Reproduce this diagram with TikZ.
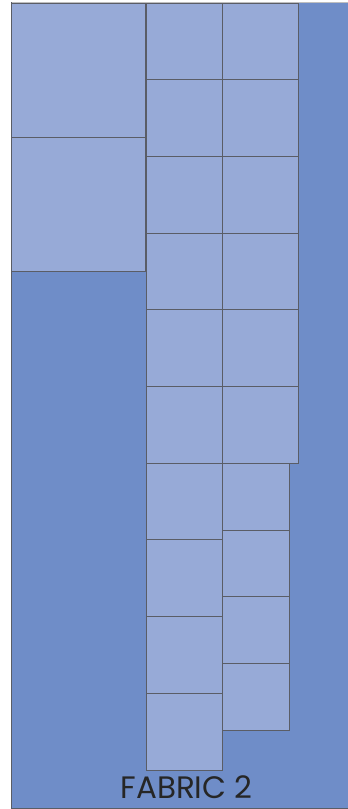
\documentclass[tikz,border=0pt]{standalone}
\usepackage{fontspec}
\newfontfamily\labelfont{Poppins}
\definecolor{fabric}{HTML}{6F8DC8}
\definecolor{patch}{HTML}{97AAD7}
\definecolor{edge}{HTML}{5A5D66}
\begin{document}
\begin{tikzpicture}[x=1pt,y=-1pt,
  patchbox/.style={draw=edge,line width=1pt,fill=patch}]
\useasboundingbox (0,0) rectangle (348,809);
\fill[white] (0,0) rectangle (348,809);
% fabric
\fill[fabric] (11,2) rectangle (349,808);
\draw[line width=1pt,color=black!25] (11,2) -- (349,2);
\draw[line width=1pt,color=edge] (11,2) -- (11,808) -- (349,808);
% big squares
\draw[patchbox] (11,3) rectangle (145,137);
\draw[patchbox] (11,137) rectangle (145,271);
% column 2: ten squares
\foreach \i in {0,...,9}{
  \draw[patchbox] (146,{3+76.7*\i}) rectangle (222,{3+76.7*(\i+1)});
}
% column 3 upper: six squares
\foreach \i in {0,...,5}{
  \draw[patchbox] (222,{3+76.7*\i}) rectangle (298.5,{3+76.7*(\i+1)});
}
% column 3 lower: four smaller squares
\foreach \i in {0,...,3}{
  \draw[patchbox] (222,{463.2+66.8*\i}) rectangle (289.5,{463.2+66.8*(\i+1)});
}
\node[font=\labelfont\fontsize{31}{31}\selectfont,text=black!85,inner sep=0pt] (lbl) at (186.5,787) {FABRIC 2};
\end{tikzpicture}
\end{document}
